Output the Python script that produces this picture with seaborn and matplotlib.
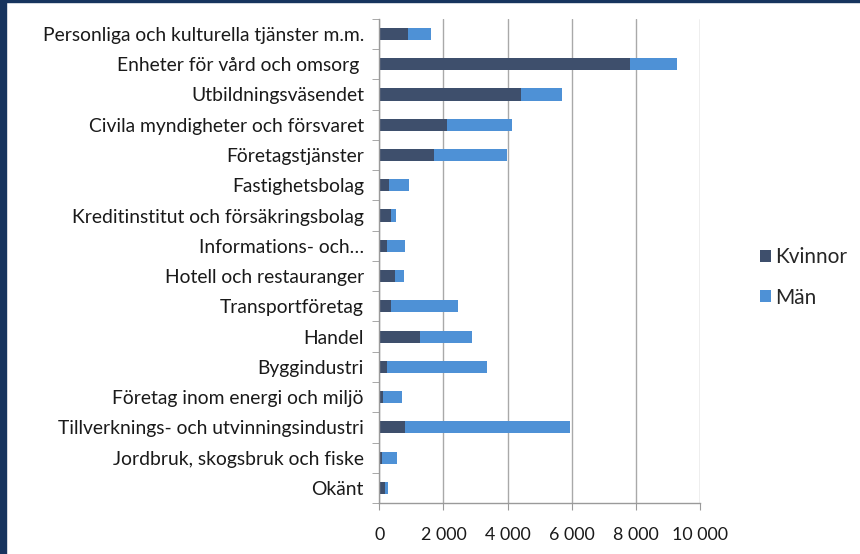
import numpy as np
import pandas as pd
import seaborn as sns
import matplotlib.pyplot as plt
from matplotlib.patches import Rectangle
from matplotlib.ticker import FuncFormatter, FixedLocator

categories = [
    'Personliga och kulturella tjänster m.m.',
    'Enheter för vård och omsorg ',
    'Utbildningsväsendet',
    'Civila myndigheter och försvaret',
    'Företagstjänster',
    'Fastighetsbolag',
    'Kreditinstitut och försäkringsbolag',
    'Informations- och…',
    'Hotell och restauranger',
    'Transportföretag',
    'Handel',
    'Byggindustri',
    'Företag inom energi och miljö',
    'Tillverknings- och utvinningsindustri',
    'Jordbruk, skogsbruk och fiske',
    'Okänt',
]
kvinnor = [890, 7830, 4430, 2110, 1700, 310, 360, 250, 490, 380, 1280, 250, 130, 810, 90, 190]
man = [730, 1440, 1260, 2020, 2290, 610, 170, 540, 280, 2080, 1600, 3110, 590, 5150, 460, 90]
xticks = [0, 2000, 4000, 6000, 8000, 10000]

df = pd.DataFrame({'kategori': categories, 'Kvinnor': kvinnor, 'Män': man})
df['total'] = df['Kvinnor'] + df['Män']

sns.set_style('white')
plt.rcParams['font.family'] = ['Lato', 'DejaVu Sans']

dark = '#3e4f6c'
light = '#4e91d6'

fig = plt.figure(figsize=(8.6, 5.54), dpi=100)
ax = fig.add_axes([0.441, 0.092, 0.373, 0.874])

# total first (light), women on top (dark) -> stacked look
sns.barplot(data=df, y='kategori', x='total', color=light, orient='h',
            width=0.4, saturation=1, linewidth=0, ax=ax, label='Män')
sns.barplot(data=df, y='kategori', x='Kvinnor', color=dark, orient='h',
            width=0.4, saturation=1, linewidth=0, ax=ax, label='Kvinnor')

ax.set_xlim(0, 10000)
ax.set_ylim(len(categories) - 0.5, -0.5)
ax.set_xticks(xticks)
ax.xaxis.set_major_formatter(FuncFormatter(lambda v, p: f'{int(v):,}'.replace(',', ' ')))
ax.set_xlabel('')
ax.set_ylabel('')
ax.grid(axis='x', color='#a9a9a9', linewidth=1)
ax.set_axisbelow(True)

for s in ['top', 'right']:
    ax.spines[s].set_visible(False)
for s in ['left', 'bottom']:
    ax.spines[s].set_color('#9a9a9a')
    ax.spines[s].set_linewidth(1)

ax.yaxis.set_minor_locator(FixedLocator(np.arange(-0.5, len(categories), 1)))
ax.tick_params(axis='y', which='major', length=0, pad=11, labelsize=13.9, colors='#1a1a1a')
ax.tick_params(axis='y', which='minor', length=5, color='#9a9a9a', left=True)
ax.tick_params(axis='x', which='major', length=5, color='#9a9a9a', bottom=True,
               labelsize=12.9, colors='#1a1a1a', pad=12)

handles, labels = ax.get_legend_handles_labels()
order = [labels.index('Kvinnor'), labels.index('Män')]
leg = ax.legend([handles[i] for i in order], [labels[i] for i in order],
                loc='center left', bbox_to_anchor=(1.13, 0.466), frameon=False,
                fontsize=15, handlelength=0.5, handleheight=0.5, labelspacing=1.0,
                handletextpad=0.2)

# dark frame edges of the slide
fig.patches.append(Rectangle((0, 0), 6 / 860, 1, transform=fig.transFigure,
                             color='#17345e', zorder=10))
fig.patches.append(Rectangle((0, 1 - 2 / 554), 1, 2 / 554, transform=fig.transFigure,
                             color='#17345e', zorder=10))

fig.savefig('out.png', dpi=100)
